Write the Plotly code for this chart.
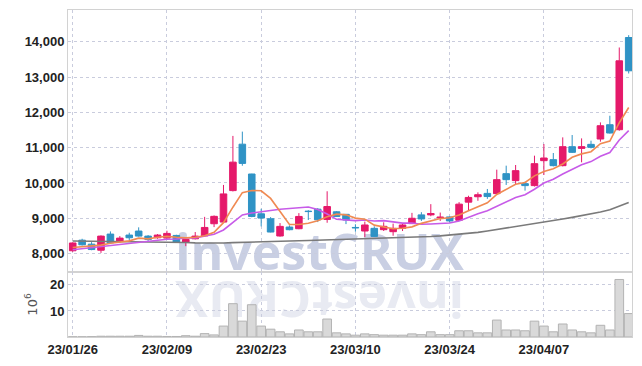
import plotly.graph_objects as go
from plotly.subplots import make_subplots

dates = ["2023-01-26","2023-01-27","2023-01-30","2023-01-31","2023-02-01","2023-02-02","2023-02-03",
         "2023-02-06","2023-02-07","2023-02-08","2023-02-09","2023-02-10","2023-02-13","2023-02-14",
         "2023-02-15","2023-02-16","2023-02-17","2023-02-20","2023-02-21","2023-02-22","2023-02-23",
         "2023-02-24","2023-02-27","2023-02-28","2023-03-02","2023-03-03","2023-03-06","2023-03-07",
         "2023-03-08","2023-03-09","2023-03-10","2023-03-13","2023-03-14","2023-03-15","2023-03-16",
         "2023-03-17","2023-03-20","2023-03-21","2023-03-22","2023-03-23","2023-03-24","2023-03-27",
         "2023-03-28","2023-03-29","2023-03-30","2023-03-31","2023-04-03","2023-04-04","2023-04-05",
         "2023-04-06","2023-04-07","2023-04-10","2023-04-11","2023-04-12","2023-04-13","2023-04-14",
         "2023-04-17","2023-04-18","2023-04-19","2023-04-20"]

open_ = [8080,8380,8267,8095,8552,8343,8524,8638,8495,8448,8438,8514,8324,8419,8500,8845,8892,9784,11099,10254,
         9127,8986,8498,8751,8704,9202,9258,8967,9183,9112,8740,8639,8715,8677,8620,8715,8848,9096,9096,9010,
         9038,8943,9457,9610,9705,9698,10264,10066,9981,9925,10632,10660,10490,11028,10980,11094,11245,11650,11509,14121]
high_ = [8320,8419,8324,8514,8628,8495,8590,8743,8524,8552,8647,8533,8419,8610,9040,9080,9944,11333,11455,10260,
         9268,9033,8864,8798,9146,9230,9287,9765,9202,9120,8830,8905,8772,8886,8848,8867,9153,9172,9400,9162,
         9050,9457,9638,9734,9830,10377,10490,10509,10038,10773,11103,10849,11292,11358,11263,11198,11716,11905,13838,14187]
low_ = [8050,8228,8095,8019,8290,8305,8362,8480,8343,8419,8419,8305,8210,8400,8480,8750,8880,9760,10488,9030,
        8770,8600,8480,8660,8690,8950,8892,8873,9040,8835,8620,8467,8480,8639,8505,8639,8840,8924,9058,8924,
        8886,8930,9210,9495,9550,9690,9943,9943,9783,9900,10226,10470,10470,10850,10585,10980,11170,11400,11480,13102]
close_ = [8300,8248,8114,8495,8305,8438,8448,8495,8400,8524,8571,8324,8400,8495,8740,9055,9690,10590,10554,9052,
          9005,8610,8770,8676,9052,9190,8958,9333,9052,8950,8730,8810,8486,8772,8715,8810,9000,8981,9134,9030,
          8924,9400,9590,9667,9615,10094,10094,10349,9925,10547,10707,10490,11028,10868,11028,11009,11622,11415,13461,13178]

ma5 = [8170,8195,8210,8240,8292,8320,8360,8436,8417,8461,8488,8463,8444,8463,8506,8603,8876,9314,9726,9788,
       9778,9562,9198,8823,8823,8860,8929,9042,9117,9097,9005,8975,8806,8750,8703,8719,8757,8856,8928,8991,
       9014,9094,9216,9322,9439,9673,9812,9964,10015,10202,10324,10404,10539,10728,10824,10885,11111,11188,11707,12137]
ma10 = [8110,8140,8165,8200,8225,8255,8290,8320,8350,8377,8404,8411,8440,8440,8484,8545,8669,8879,9094,9147,
        9191,9219,9256,9274,9305,9319,9246,9120,8970,8960,8932,8952,8924,8933,8900,8862,8866,8831,8839,8847,
        8866,8925,9036,9125,9215,9344,9453,9590,9669,9821,9999,10108,10252,10372,10513,10605,10757,10864,11218,11481]
ma60 = [8355,8353,8350,8348,8346,8344,8342,8340,8337,8334,8330,8322,8312,8302,8295,8292,8298,8310,8320,8328,
        8335,8340,8348,8355,8362,8370,8378,8385,8392,8398,8404,8410,8416,8424,8432,8442,8455,8470,8482,8500,
        8520,8540,8565,8600,8640,8680,8720,8760,8800,8845,8890,8935,8980,9025,9070,9120,9175,9240,9340,9450]

volume = [0.1,0.1,0.15,0.3,0.3,0.3,0.3,0.6,0.3,0.3,0.2,0.2,0.5,0.3,1.3,0.8,4.2,12.8,6.1,12.4,
          4.2,3.0,2.0,1.2,2.7,2.0,2.0,6.9,1.6,1.2,0.7,1.2,0.9,0.7,0.7,0.7,1.2,0.9,2.0,0.9,
          0.9,2.4,2.4,1.6,1.6,6.5,2.7,2.7,2.4,6.1,4.2,2.0,5.0,2.7,2.0,1.6,4.5,2.7,22.1,9.0]

tick_dates = ["2023-01-26","2023-02-09","2023-02-23","2023-03-10","2023-03-24","2023-04-07"]
tick_text = ["23/01/26","23/02/09","23/02/23","23/03/10","23/03/24","23/04/07"]
price_ticks = [8000,9000,10000,11000,12000,13000,14000]
vol_ticks = [10,20]

UP = "#e5196a"
DOWN = "#2f93c5"
GRID = "#c9ccdd"
FONT = "Liberation Sans, Arial, sans-serif"

fig = make_subplots(rows=2, cols=1, shared_xaxes=True, vertical_spacing=0,
                    row_heights=[0.801, 0.199])

fig.add_trace(go.Scatter(x=dates, y=ma60, mode="lines", line=dict(color="#7a7a7a", width=1.6),
                         hoverinfo="skip"), row=1, col=1)
fig.add_trace(go.Candlestick(x=dates, open=open_, high=high_, low=low_, close=close_,
                             increasing=dict(line=dict(color=UP, width=1), fillcolor=UP),
                             decreasing=dict(line=dict(color=DOWN, width=1), fillcolor=DOWN),
                             whiskerwidth=0), row=1, col=1)
fig.add_trace(go.Scatter(x=dates, y=ma10, mode="lines", line=dict(color="#c75be8", width=1.6),
                         hoverinfo="skip"), row=1, col=1)
fig.add_trace(go.Scatter(x=dates, y=ma5, mode="lines", line=dict(color="#f08a52", width=1.6),
                         hoverinfo="skip"), row=1, col=1)
fig.add_trace(go.Bar(x=dates, y=volume, marker=dict(color="#d9d9d9", line=dict(color="#b3b3b3", width=1)),
                     hoverinfo="skip"), row=2, col=1)

# watermark (below traces)
fig.add_shape(type="rect", xref="paper", yref="paper", x0=0.151, x1=0.741, y0=0.159, y1=0.349,
              line=dict(width=0), fillcolor="rgba(0,0,0,0)", layer="below",
              label=dict(text="<b>investCRUX</b>", font=dict(family="Open Sans, sans-serif", size=50, color="#c9cfe3"),
                         textposition="middle center"))
fig.add_shape(type="rect", xref="paper", yref="paper", x0=0.151, x1=0.741, y0=0.027, y1=0.217,
              line=dict(width=0), fillcolor="rgba(0,0,0,0)", layer="below",
              label=dict(text="<b>investCRUX</b>", font=dict(family="Open Sans, sans-serif", size=50, color="#e8eaf2"),
                         textposition="middle center", textangle=180))

axis_common = dict(showline=True, linecolor="#d2d2d2", linewidth=1, mirror=True,
                   showgrid=True, gridcolor=GRID, griddash="dot", gridwidth=1, zeroline=False,
                   tickfont=dict(family=FONT, size=13, color="#222222", weight="bold"), ticks="",
                   automargin=False)

fig.update_xaxes(type="category", range=[-0.5, 59.35], tickvals=tick_dates, ticktext=tick_text,
                 rangeslider_visible=False, **axis_common)
fig.update_xaxes(showticklabels=False, row=1, col=1)
fig.update_yaxes(range=[7480, 14900], tickvals=price_ticks, tickformat=",d", row=1, col=1, **axis_common)
fig.update_yaxes(range=[0, 25], tickvals=vol_ticks, row=2, col=1,
                 title=dict(text="10<sup>6</sup>", font=dict(family="DejaVu Sans, sans-serif", size=13, color="#555"),
                            standoff=9), **axis_common)

# page body has an 8px margin: size the figure so it fits the 642x366 window
fig.update_layout(width=634, height=350, margin=dict(l=60, r=10, t=2, b=21),
                  paper_bgcolor="white", plot_bgcolor="white", showlegend=False,
                  hovermode=False, bargap=0.08, boxgap=0.15, boxgroupgap=0.18)

fig.write_html("out.html")
